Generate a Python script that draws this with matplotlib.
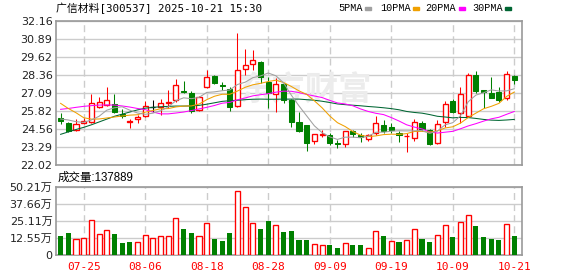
import numpy as np
import matplotlib.pyplot as plt
from matplotlib.patches import Rectangle

plt.rcParams['font.family'] = ['DejaVu Sans', 'Noto Sans CJK SC']

# daily K-line, 2025-07-22 .. 2025-10-21 (60 trading days)
opens = [25.31, 24.98, 24.46, 25.00, 25.05, 26.08, 26.27, 26.32, 25.59, 25.05,
         25.24, 25.47, 26.13, 26.08, 26.40, 26.58, 27.25, 27.11, 25.89, 27.53,
         28.29, 27.63, 27.37, 26.17, 28.76, 29.11, 29.29, 27.89, 27.02, 27.70,
         26.60, 25.07, 24.84, 23.73, 24.16, 24.13, 23.57, 23.50, 24.41, 24.11,
         23.85, 24.25, 24.84, 24.68, 24.29, 24.04, 23.90, 24.96, 24.49, 23.55,
         25.03, 26.53, 25.70, 25.49, 28.36, 27.30, 27.11, 27.18, 26.72, 28.29]
closes = [25.14, 24.41, 24.89, 25.14, 26.36, 26.43, 26.58, 25.75, 25.49, 25.14,
          25.42, 26.17, 26.13, 26.36, 26.46, 27.63, 27.18, 25.82, 26.79, 28.24,
          27.82, 27.58, 26.08, 28.71, 29.06, 29.41, 28.20, 27.11, 27.70, 26.60,
          25.07, 24.44, 23.59, 24.18, 24.20, 23.59, 23.53, 24.41, 24.18, 23.97,
          24.13, 24.96, 24.43, 24.49, 24.13, 24.08, 25.03, 24.53, 23.50, 24.89,
          26.29, 25.77, 27.02, 28.36, 27.25, 27.16, 26.76, 26.60, 28.41, 28.01]
highs = [25.70, 25.03, 25.26, 25.35, 27.02, 26.79, 27.51, 27.02, 25.94, 25.28,
         25.54, 26.53, 26.58, 26.65, 27.30, 28.05, 27.93, 27.23, 26.88, 28.71,
         28.36, 27.84, 27.53, 31.34, 30.17, 30.12, 29.36, 28.20, 28.13, 27.77,
         26.65, 25.77, 24.86, 24.20, 24.49, 24.25, 23.78, 24.43, 24.49, 24.25,
         24.18, 25.47, 25.19, 25.00, 24.41, 24.25, 25.26, 25.12, 24.53, 25.19,
         26.53, 26.67, 27.53, 28.48, 28.66, 27.32, 28.20, 27.53, 28.66, 28.36]
lows = [24.89, 24.36, 24.41, 24.91, 24.98, 26.01, 26.17, 25.68, 25.35, 24.60,
        24.96, 25.38, 25.77, 25.54, 26.01, 26.48, 27.11, 25.70, 25.84, 27.44,
        27.72, 27.30, 25.84, 26.08, 28.36, 28.71, 27.82, 26.01, 25.73, 26.41,
        24.72, 24.37, 23.03, 23.50, 23.97, 23.43, 23.24, 23.27, 23.97, 23.66,
        23.73, 24.13, 24.29, 24.25, 23.66, 22.92, 23.73, 24.41, 23.43, 23.50,
        24.72, 25.66, 24.96, 25.42, 27.11, 26.01, 26.72, 26.48, 26.60, 27.72]

ma5 = [25.26, 25.19, 25.07, 25.02, 25.19, 25.45, 25.88, 26.05, 26.12, 25.88,
       25.68, 25.59, 25.67, 25.84, 26.11, 26.55, 26.75, 26.69, 26.78, 27.13,
       27.17, 27.25, 27.30, 27.69, 27.85, 28.17, 28.29, 28.50, 28.30, 27.80,
       26.94, 26.18, 25.48, 24.78, 24.30, 24.00, 23.82, 23.98, 23.98, 23.94,
       24.04, 24.33, 24.33, 24.40, 24.43, 24.42, 24.43, 24.45, 24.25, 24.41,
       24.85, 25.00, 25.49, 26.47, 26.94, 27.11, 27.31, 27.23, 27.24, 27.39]
ma10 = [26.36, 26.00, 25.70, 25.35, 25.25, 25.26, 25.33, 25.40, 25.47, 25.53,
        25.56, 25.74, 25.86, 25.98, 25.99, 26.11, 26.17, 26.18, 26.31, 26.62,
        26.86, 27.00, 27.00, 27.23, 27.49, 27.67, 27.77, 27.90, 27.99, 27.83,
        27.55, 27.24, 26.99, 26.54, 26.05, 25.47, 25.00, 24.73, 24.38, 24.12,
        24.02, 24.07, 24.16, 24.19, 24.18, 24.23, 24.38, 24.39, 24.33, 24.42,
        24.63, 24.71, 24.97, 25.36, 25.67, 25.98, 26.15, 26.36, 26.85, 27.16]
ma20 = [25.94, 26.00, 26.08, 26.15, 26.20, 26.24, 26.25, 26.24, 26.18, 26.10,
        26.00, 25.92, 25.75, 25.62, 25.62, 25.68, 25.75, 25.85, 25.97, 26.08,
        26.21, 26.37, 26.43, 26.61, 26.74, 26.89, 26.97, 27.04, 27.15, 27.22,
        27.21, 27.12, 26.99, 26.88, 26.77, 26.57, 26.39, 26.32, 26.19, 25.97,
        25.79, 25.66, 25.57, 25.36, 25.12, 24.85, 24.69, 24.56, 24.35, 24.27,
        24.33, 24.39, 24.57, 24.77, 24.93, 25.11, 25.27, 25.38, 25.59, 25.79]
ma30 = [24.18, 24.35, 24.52, 24.67, 24.85, 25.05, 25.25, 25.45, 25.60, 25.75,
        25.90, 26.02, 26.08, 26.12, 26.15, 26.17, 26.17, 26.18, 26.22, 26.30,
        26.40, 26.50, 26.55, 26.58, 26.62, 26.65, 26.66, 26.65, 26.65, 26.66,
        26.66, 26.66, 26.62, 26.58, 26.51, 26.42, 26.32, 26.27, 26.23, 26.19,
        26.14, 26.10, 26.05, 25.99, 25.91, 25.79, 25.72, 25.67, 25.57, 25.45,
        25.40, 25.34, 25.37, 25.36, 25.30, 25.23, 25.18, 25.16, 25.19, 25.23]

# volume in 万 shares, colour as shown on the volume panel
volume = [14.0, 16.2, 11.8, 12.5, 25.5, 15.2, 18.2, 15.3, 8.9, 9.6,
          9.6, 14.5, 12.3, 13.8, 13.8, 27.1, 19.2, 16.2, 13.8, 23.4,
          11.8, 10.3, 16.2, 47.0, 35.2, 23.6, 19.2, 25.1, 21.9, 17.2,
          17.7, 11.1, 11.1, 7.9, 7.1, 7.4, 5.2, 8.6, 7.4, 7.4,
          4.9, 17.5, 14.0, 10.3, 9.6, 10.8, 18.9, 11.8, 9.6, 14.5,
          21.8, 13.2, 24.0, 29.9, 21.3, 13.2, 11.8, 11.0, 22.6, 13.79]
vol_color = list("GGRRRRRGGGRRRRRRGGRRGGGRRRGGRGGGGRRGGRGGRRGRGRRGGRRGRRGGGGRG")

price_ticks = [22.02, 23.29, 24.56, 25.82, 27.09, 28.36, 29.62, 30.89, 32.16]
vol_ticks = [0, 12.55, 25.11, 37.66, 50.21]
vol_tick_labels = ['0', '12.55万', '25.11万', '37.66万', '50.21万']
date_idx = [3, 11, 19, 27, 35, 43, 51, 59]
date_labels = ['07-25', '08-06', '08-18', '08-28', '09-09', '09-19', '10-09', '10-21']

W, H = 578, 276
RED = '#ff0000'
GREEN = '#008000'
GRID = '#cccccc'
FRAME = '#999999'
LW = 0.75

fig = plt.figure(figsize=(W / 100, H / 100), dpi=100)
ax = fig.add_axes([56 / W, 1 - 165 / H, 466 / W, 144 / H])
axv = fig.add_axes([56 / W, 1 - 255 / H, 466 / W, 68 / H])

x = np.arange(len(closes))
bw = 0.66

# candles
for i in x:
    o, c, h, l = opens[i], closes[i], highs[i], lows[i]
    col = RED if c > o else (GREEN if c < o else 'black')
    lo, hi = min(o, c), max(o, c)
    ax.vlines(i, l, lo, color=col, lw=LW, zorder=3)
    ax.vlines(i, hi, h, color=col, lw=LW, zorder=3)
    if c > o:
        ax.add_patch(Rectangle((i - bw / 2, lo), bw, hi - lo, facecolor='white',
                               edgecolor=col, lw=LW * 1.3, zorder=3))
    elif c < o:
        ax.add_patch(Rectangle((i - bw / 2, lo), bw, hi - lo, facecolor=col,
                               edgecolor=col, lw=LW, zorder=3))
    else:
        ax.hlines(o, i - bw / 2, i + bw / 2, color=col, lw=LW * 1.3, zorder=3)

ax.plot(x, ma30, color='#006633', lw=LW, zorder=4)
ax.plot(x, ma20, color='#ff00ff', lw=LW, zorder=4)
ax.plot(x, ma10, color='#f0a000', lw=LW, zorder=4)
ax.plot(x, ma5, color='#a0a0a0', lw=LW, zorder=4)

ax.text(31.8, 27.25, '东方财富', fontsize=24, fontweight='bold', color='#ececec',
        ha='center', va='center', zorder=1, family=['Noto Sans CJK SC'])

ax.set_xlim(-0.6, 60.0)
ax.set_ylim(22.02, 32.16)
ax.set_yticks(price_ticks)
ax.set_yticklabels(['%.2f' % v for v in price_ticks])
ax.set_xticks(date_idx)
ax.tick_params(axis='x', labelbottom=False, length=0)

# volume
for i in x:
    if vol_color[i] == 'R':
        axv.bar(i, volume[i], width=bw, facecolor='white', edgecolor=RED, lw=LW * 1.3, zorder=3)
    else:
        axv.bar(i, volume[i], width=bw, color=GREEN, lw=0, zorder=3)
axv.set_xlim(-0.6, 60.0)
axv.set_ylim(0, 50.21)
axv.set_yticks(vol_ticks)
axv.set_yticklabels(vol_tick_labels)
axv.set_xticks(date_idx)
axv.set_xticklabels(date_labels, color=RED, family=['DejaVu Sans Mono'], fontsize=8)
axv.tick_params(axis='x', length=0, pad=5)

for a in (ax, axv):
    a.set_axisbelow(True)
    a.yaxis.grid(True, color=GRID, lw=1)
    a.xaxis.grid(True, color=GRID, lw=1, ls=(0, (5, 3)))
    a.tick_params(axis='y', length=0, pad=2.5, labelsize=8, labelcolor='#222222')
    for s in a.spines.values():
        s.set_color(FRAME)
        s.set_linewidth(1.2)

# header texts
fig.text(56 / W, 1 - 8 / H, '广信材料[300537] 2025-10-21 15:30', fontsize=7.8,
         va='center', ha='left', family=['DejaVu Sans Mono', 'Noto Sans CJK SC'])
fig.text(58 / W, 1 - 178 / H, '成交量:137889', fontsize=8.3, va='center', ha='left',
         family=['Liberation Sans', 'Noto Sans CJK SC'])

legend_items = [('5PMA', 338, 365, '#a0a0a0'), ('10PMA', 380, 413, '#f0a000'),
                ('20PMA', 425, 459, '#ff00ff'), ('30PMA', 472, 505, '#006633')]
for name, tx, sx, col in legend_items:
    fig.text(tx / W, 1 - 8 / H, name, fontsize=7.3, va='center', ha='left',
             family=['Liberation Mono'])
    fig.patches.append(Rectangle((sx / W, 1 - 10 / H), 6 / W, 3 / H, color=col,
                                 transform=fig.transFigure, figure=fig))

plt.savefig('out.png', dpi=100)
